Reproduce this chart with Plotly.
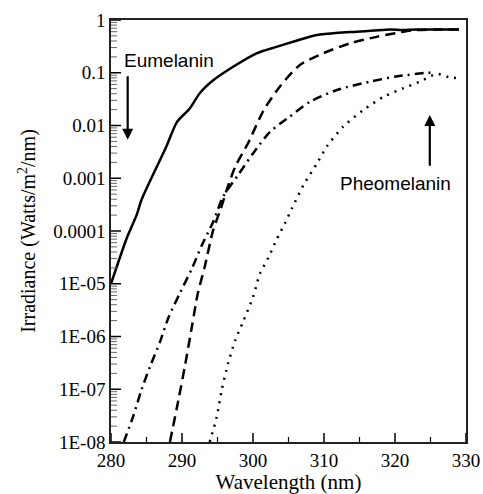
import math
import plotly.graph_objects as go

# Eumelanin-side curve (solid)
wl_solid = [280, 281, 282.2, 283.6, 284.3, 286.0, 287.8, 289.3, 291.1, 292.5, 294.4, 297.2,
            300.5, 303.3, 306, 309, 312, 314.6, 317, 319.3, 321, 323, 326, 329]
irr_solid = [1.0e-5, 2.5e-5, 7.2e-5, 2.0e-4, 3.9e-4, 1.23e-3, 4.0e-3, 1.17e-2, 2.1e-2, 4.1e-2,
             7.2e-2, 0.13, 0.234, 0.31, 0.40, 0.52, 0.575, 0.60, 0.63, 0.66, 0.645, 0.66, 0.66, 0.66]

# dashed curve
wl_dash = [288.3, 289.5, 290.4, 291.4, 292.2, 293.2, 294.4, 295.4, 296.3, 297.5, 299.3, 301.5,
           303.8, 306.6, 309.9, 313.7, 317.4, 321.2, 323, 326, 329]
irr_dash = [1.0e-8, 6.3e-8, 2.7e-7, 1.55e-6, 6.3e-6, 2.1e-5, 1.05e-4, 2.5e-4, 6.0e-4, 1.66e-3,
            4.6e-3, 1.95e-2, 5.5e-2, 0.141, 0.234, 0.363, 0.479, 0.60, 0.645, 0.66, 0.66]

# dash-dot curve
wl_dashdot = [281.8, 283.1, 284.3, 285.5, 286.9, 288.1, 289.7, 291.4, 292.8, 294.4, 295.8, 297.9,
              300.0, 302.4, 305.2, 308.0, 311.8, 316.5, 320.2, 324.5, 325.5]
irr_dashdot = [1.0e-8, 3.0e-8, 9.8e-8, 2.7e-7, 7.9e-7, 2.3e-6, 6.6e-6, 1.95e-5, 5.4e-5, 1.5e-4,
               4.5e-4, 1.15e-3, 2.95e-3, 7.6e-3, 1.48e-2, 2.8e-2, 4.7e-2, 6.8e-2, 8.5e-2, 0.10, 0.10]

# Pheomelanin-side curve (dotted)
wl_dot = [293.9, 294.9, 295.6, 296.5, 297.5, 298.6, 300.0, 301.0, 302.2, 303.3, 304.5, 305.5,
          307.1, 309.0, 310.4, 312.7, 315.5, 318.4, 321.2, 323.5, 325.9, 327.5, 329]
irr_dot = [1.0e-8, 3.0e-8, 9.8e-8, 3.1e-7, 8.5e-7, 1.9e-6, 5.6e-6, 1.58e-5, 3.2e-5, 6.8e-5, 1.4e-4,
           2.7e-4, 7.4e-4, 1.9e-3, 4.0e-3, 9.5e-3, 1.95e-2, 3.5e-2, 5.1e-2, 6.8e-2, 9.5e-2, 8.3e-2, 7.9e-2]

y_tickvals = [1e-8, 1e-7, 1e-6, 1e-5, 1e-4, 1e-3, 1e-2, 1e-1, 1]
y_ticktext = ["1E-08", "1E-07", "1E-06", "1E-05", "0.0001", "0.001", "0.01", "0.1", "1"]
x_major = [280, 290, 300, 310, 320, 330]
x_minor = [285, 295, 305, 315, 325]

X0, X1, YLOG0, YLOG1 = 280, 330, -8, 0
PLOT_W, PLOT_H = 355, 422          # plot-area size in px (483-111-17, 494-20-52)
px_x = (X1 - X0) / PLOT_W          # nm per pixel
px_y = (YLOG1 - YLOG0) / PLOT_H    # decades per pixel

fig = go.Figure()
common = dict(mode="lines", line_shape="spline", hoverinfo="skip")
fig.add_trace(go.Scatter(x=wl_solid, y=irr_solid, **common,
                         line=dict(color="black", width=2.5, smoothing=0.7)))
fig.add_trace(go.Scatter(x=wl_dash, y=irr_dash, **common,
                         line=dict(color="black", width=2.5, dash="10px,6px", smoothing=0.7)))
fig.add_trace(go.Scatter(x=wl_dashdot, y=irr_dashdot, **common,
                         line=dict(color="black", width=2.5, dash="9px,5px,2px,5px", smoothing=0.7)))
fig.add_trace(go.Scatter(x=wl_dot, y=irr_dot, **common,
                         line=dict(color="black", width=2.5, dash="2px,6px", smoothing=0.7)))

# inside tick marks built from the tick lists
def xticks(vals, length_px):
    xs, ys = [], []
    for v in vals:
        xs += [v, v, None]
        ys += [10 ** YLOG0, 10 ** (YLOG0 + length_px * px_y), None]
    return xs, ys

def yticks(vals, length_px):
    xs, ys = [], []
    for v in vals:
        xs += [X0, X0 + length_px * px_x, None]
        ys += [v, v, None]
    return xs, ys

y_minor = [m * v for v in y_tickvals[:-1] for m in range(2, 10)]
for (xs, ys), w, c in [(xticks(x_major, 9), 1.5, "black"), (xticks(x_minor, 5), 1.2, "black"),
                       (yticks(y_tickvals, 10), 1.5, "black"), (yticks(y_minor, 6), 1, "#666")]:
    fig.add_trace(go.Scatter(x=xs, y=ys, mode="lines", hoverinfo="skip", cliponaxis=False,
                             line=dict(color=c, width=w)))

serif = "Liberation Serif, Times New Roman, serif"
sans = "Liberation Sans, Arial, sans-serif"

fig.update_layout(
    template="none",
    width=483, height=494,
    margin=dict(l=111, r=17, t=20, b=52, autoexpand=False),
    paper_bgcolor="white", plot_bgcolor="white",
    showlegend=False,
    font=dict(family=serif, color="black", size=19),
    xaxis=dict(range=[X0, X1], tickmode="array", tickvals=x_major, ticks="",
               showgrid=False, zeroline=False,
               showline=True, linecolor="#222", linewidth=1.5, mirror=True, automargin=False,
               tickfont=dict(family=serif, size=19),
               title=dict(text="Wavelength (nm)", font=dict(family=serif, size=21), standoff=4)),
    yaxis=dict(type="log", range=[YLOG0, YLOG1], tickmode="array", tickvals=y_tickvals,
               ticktext=y_ticktext, ticks="", showgrid=False, zeroline=False, showline=True,
               linecolor="#222", linewidth=1.5, mirror=True, automargin=False,
               tickfont=dict(family=serif, size=19),
               title=dict(text="Irradiance (Watts/m<sup>2</sup>/nm)",
                          font=dict(family=serif, size=20), standoff=12)),
)

fig.add_annotation(x=288.2, y=-0.76, xref="x", yref="y", text="Eumelanin", showarrow=False,
                   font=dict(family=sans, size=19, color="black"))
fig.add_annotation(x=320.1, y=-3.09, xref="x", yref="y", text="Pheomelanin", showarrow=False,
                   font=dict(family=sans, size=19, color="black"))
fig.add_annotation(x=282.35, y=-2.27, xref="x", yref="y", ax=282.35, ay=-1.04,
                   axref="x", ayref="y", text="", showarrow=True, arrowhead=2,
                   arrowsize=1, arrowwidth=2.2, arrowcolor="black")
fig.add_annotation(x=324.9, y=-1.80, xref="x", yref="y", ax=324.9, ay=-2.79,
                   axref="x", ayref="y", text="", showarrow=True, arrowhead=2,
                   arrowsize=1, arrowwidth=2.2, arrowcolor="black")

fig.write_html("out.html", config={"displayModeBar": False},
               post_script="document.body.style.margin='0px';")
